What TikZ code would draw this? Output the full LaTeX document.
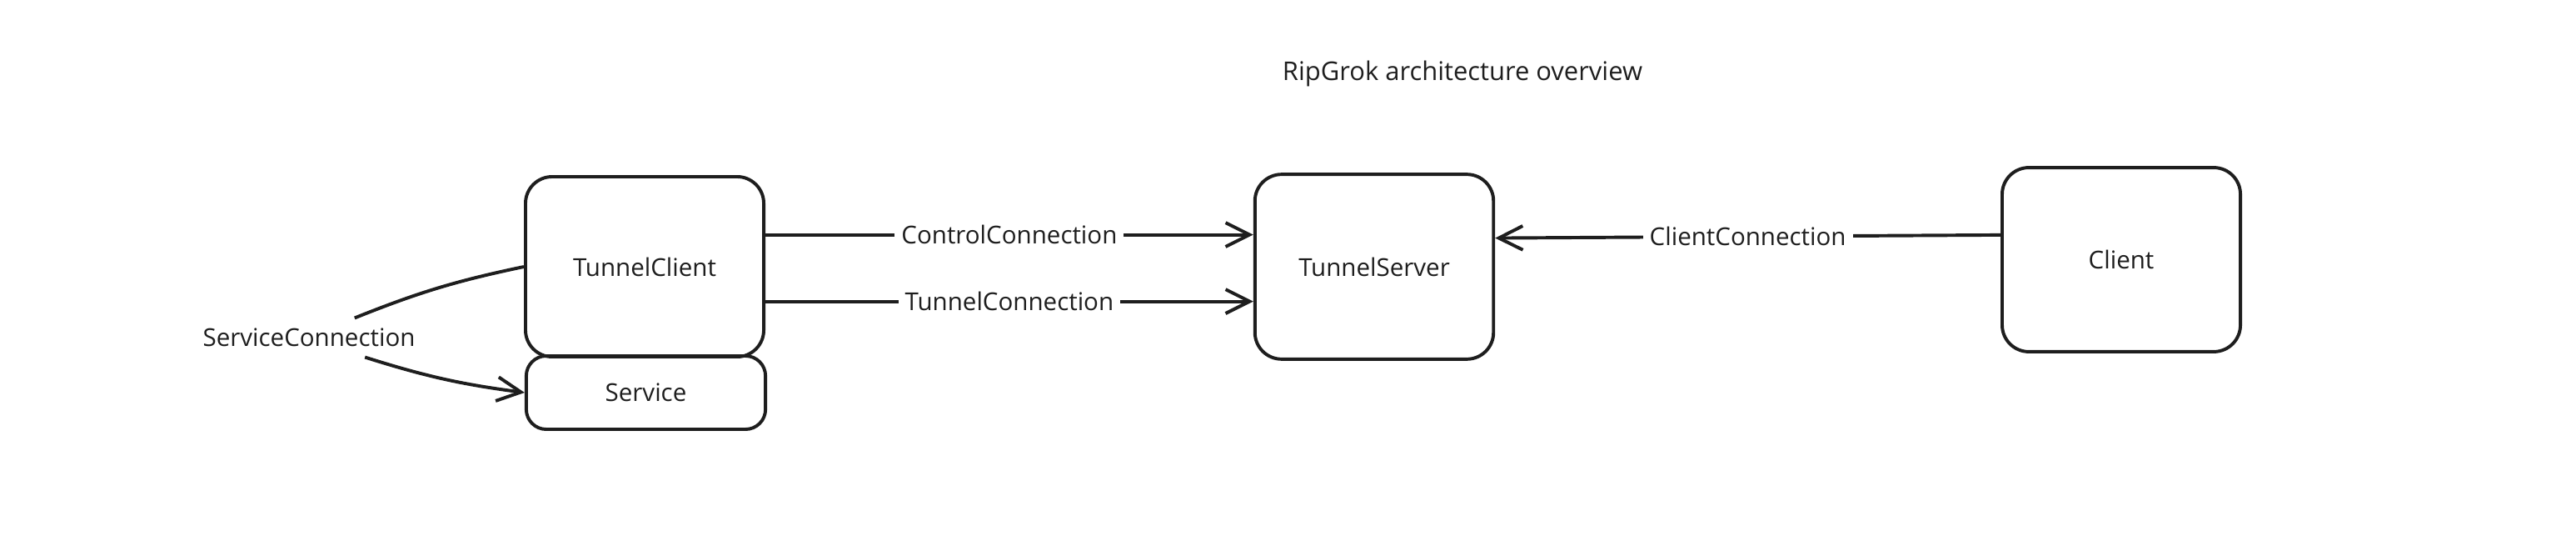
\documentclass[tikz,border=0pt]{standalone}
\usepackage{fontspec}
\setmainfont{Open Sans}
\usetikzlibrary{arrows.meta}

\definecolor{ink}{HTML}{1E1E1E}
\newcommand{\lbl}{\fontsize{10.5}{12}\selectfont}

\tikzset{
	box/.style={draw=ink, line width=1.4pt, rounded corners=0.4cm, minimum width=3.575cm, minimum height=2.76cm, font=\lbl, text=ink},
	conn/.style={draw=ink, line width=1.4pt, -{Straight Barb[length=0.36cm, width=0.36cm]}},
	connlabel/.style={fill=white, inner sep=0.1cm, font=\lbl, text=ink},
}

\begin{document}
\begin{tikzpicture}[x=0.025cm, y=-0.025cm]
			\useasboundingbox (0, 0) rectangle (1546.5, 330.5);
			\node[font=\fontsize{11}{13}\selectfont, text=ink] (title) at (878, 44) {RipGrok architecture overview};
			\node[box, minimum height=2.7cm] (tc) at (387, 160) {TunnelClient};
			\node[box, minimum width=3.59cm, minimum height=1.1cm, rounded corners=0.3cm] (sv) at (387.75, 235.5) {Service};
			\node[box, minimum width=3.58cm, minimum height=2.77cm] (ts) at (825, 160) {TunnelServer};
			\node[box] (cl) at (1273.5, 155.75) {Client};
			\draw[conn] ([yshift=0.48cm]tc.east) -- node[connlabel] {ControlConnection} ([yshift=0.48cm]ts.west);
			\draw[conn] ([yshift=-0.52cm]tc.east) -- node[connlabel] {TunnelConnection} ([yshift=-0.52cm]ts.west);
			\draw[conn] ([yshift=0.37cm]cl.west) -- node[connlabel] {ClientConnection} ([yshift=0.43cm]ts.east);
			\node[connlabel, inner xsep=1pt, inner ysep=0.15cm] (svc) at (185.5, 202.5) {ServiceConnection};
			\draw[draw=ink, line width=1.4pt] (tc.west) to[bend right=5] (svc);
			\draw[conn] (svc) to[bend right=5] (sv.west);
		\end{tikzpicture}
\end{document}
